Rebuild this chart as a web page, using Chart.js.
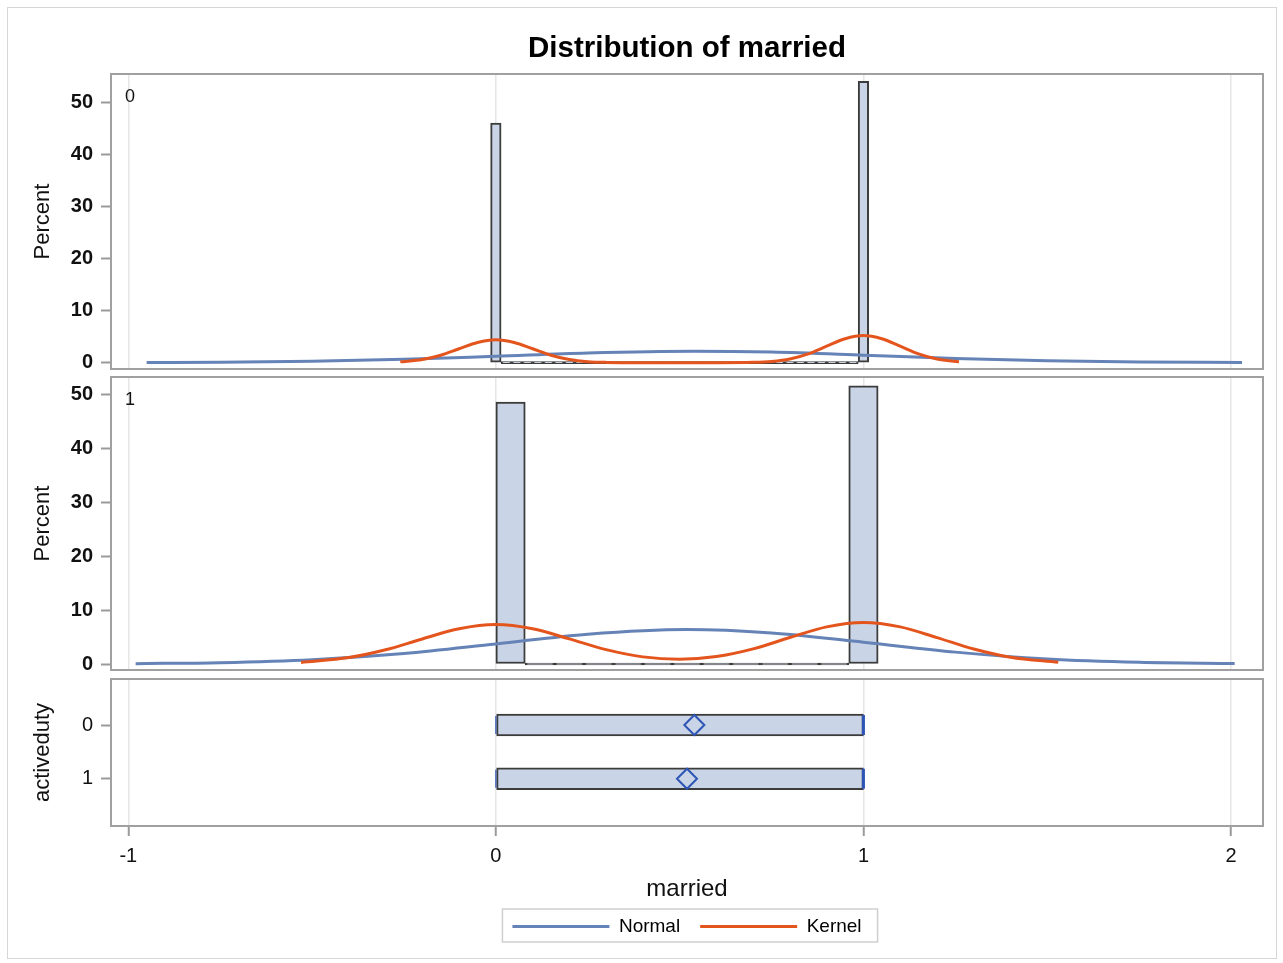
<!DOCTYPE html>
<html>
<head>
<meta charset="utf-8">
<title>Distribution of married</title>
<script src="https://cdn.jsdelivr.net/npm/chart.js@4.4.1/dist/chart.umd.min.js"></script>
<style>
  html, body { margin: 0; padding: 0; background: #fff; overflow: hidden; }
  #wrap { position: relative; width: 1283px; height: 963px; }
  #frame { position: absolute; left: 7px; top: 7px; width: 1268px; height: 950px; border: 1px solid #d6d6d6; }
  canvas { position: absolute; left: 0; }
</style>
</head>
<body>
<div id="wrap">
  <div id="frame"></div>
  <canvas id="c1" width="1283" height="380" style="top:0px"></canvas>
  <canvas id="c2" width="1283" height="315" style="top:366px"></canvas>
  <canvas id="c3" width="1283" height="291" style="top:672px"></canvas>
</div>
<script>
const chartTitle = 'Distribution of married';
const xLabel = 'married';
const yLabel = 'Percent';
const groupLabel = 'activeduty';
const groups = ['0', '1'];
const xTicks = [-1, 0, 1, 2];
const percentTicks = [0, 10, 20, 30, 40, 50];
const legendNames = ['Normal', 'Kernel'];

// histogram for activeduty = 0 : bins of width 1/35 starting at 0
const hist0Start = 0;
const hist0Width = 1 / 35;
const hist0Pct = [46, 0, 0, 0, 0, 0, 0, 0, 0, 0, 0, 0, 0, 0, 0, 0, 0, 0,
                  0, 0, 0, 0, 0, 0, 0, 0, 0, 0, 0, 0, 0, 0, 0, 0, 0, 54];

// histogram for activeduty = 1 : bins of width 0.08 starting at 0.04
const hist1Start = 0.04;
const hist1Width = 0.08;
const hist1Pct = [48.5, 0, 0, 0, 0, 0, 0, 0, 0, 0, 0, 0, 51.5];

// fitted curves
const normal0X = [-0.95, -0.75, -0.5, -0.25, 0, 0.25, 0.54, 0.75, 1, 1.25, 1.5, 1.75, 2.03];
const normal0Y = [0.03, 0.08, 0.25, 0.63, 1.23, 1.86, 2.2, 2.02, 1.44, 0.8, 0.35, 0.12, 0.03];
const kernel0X = [-0.26, -0.2, -0.15, -0.1, -0.05, 0, 0.05, 0.1, 0.15, 0.2, 0.25, 0.3, 0.4, 0.5,
                  0.6, 0.7, 0.75, 0.8, 0.85, 0.9, 0.95, 1, 1.05, 1.1, 1.15, 1.2, 1.26];
const kernel0Y = [0.15, 0.6, 1.43, 2.67, 3.88, 4.4, 3.88, 2.67, 1.43, 0.6, 0.19, 0.05, 0, 0,
                  0, 0.06, 0.23, 0.7, 1.69, 3.16, 4.59, 5.2, 4.59, 3.16, 1.69, 0.7, 0.18];

const normal1X = [-0.98, -0.75, -0.5, -0.25, 0, 0.25, 0.52, 0.75, 1, 1.25, 1.5, 1.75, 2.01];
const normal1Y = [0.07, 0.25, 0.8, 1.95, 3.72, 5.53, 6.4, 5.76, 4.04, 2.2, 0.93, 0.31, 0.08];
const kernel1X = [-0.53, -0.4, -0.3, -0.2, -0.1, 0, 0.1, 0.2, 0.3, 0.4, 0.5, 0.6, 0.7, 0.8,
                  0.9, 1, 1.1, 1.2, 1.3, 1.4, 1.53];
const kernel1Y = [0.3, 1.19, 2.63, 4.64, 6.52, 7.3, 6.52, 4.65, 2.66, 1.32, 0.88, 1.38, 2.8, 4.9,
                  6.88, 7.7, 6.88, 4.89, 2.77, 1.26, 0.32];

// box plot stats per activeduty group
const boxMin = [0, 0];
const boxQ1 = [0, 0];
const boxMedian = [1, 1];
const boxQ3 = [1, 1];
const boxMean = [0.54, 0.52];

const FONT = "'Liberation Sans', Arial, Helvetica, sans-serif";
const BLUE = '#6583b6';
const ORANGE = '#e4551e';
const BAR_FILL = '#c9d5e6';
const BAR_EDGE = '#3c3c3c';
const MARK = '#2e55b6';
const TEXT = '#111';
const GRID = '#e6e6e6';
const TICK = '#9a9a9a';
const X_MIN = -1.047, X_MAX = 2.087;

Chart.defaults.font.family = FONT;
Chart.defaults.color = TEXT;
Chart.defaults.animation = false;

// plot frame, panel label, legend border
const framePlugin = {
  id: 'frame',
  afterDraw(chart, args, opts) {
    const { ctx, chartArea: a } = chart;
    ctx.save();
    ctx.strokeStyle = '#a0a0a0';
    ctx.lineWidth = 2;
    ctx.strokeRect(a.left, a.top, a.right - a.left, a.bottom - a.top);
    if (opts.label) {
      ctx.fillStyle = TEXT;
      ctx.font = '18px ' + FONT;
      ctx.textBaseline = 'middle';
      ctx.textAlign = 'left';
      ctx.fillText(opts.label, a.left + 14, a.top + 23);
    }
    if (opts.legendBox && chart.legend && chart.legend.legendHitBoxes.length) {
      const hb = chart.legend.legendHitBoxes;
      const last = hb[hb.length - 1];
      const l = hb[0].left - 10, r = last.left + last.width + 16;
      const t = hb[0].top - 8, b = hb[0].top + hb[0].height + 6;
      ctx.strokeStyle = '#cfcfcf';
      ctx.lineWidth = 1.5;
      ctx.strokeRect(l, t, r - l, b - t);
    }
    ctx.restore();
  }
};

// label overhang must not push the plot areas around
function noOverhang(s) {
  s.paddingTop = 0;
  s.paddingBottom = 0;
  s.paddingLeft = 0;
  s.paddingRight = 0;
}

function points(xs, ys) {
  return xs.map((x, i) => ({ x: x, y: ys[i] }));
}

function yAxis(min, max, title, tickValues, labelFor, weight) {
  return {
    type: 'linear',
    min: min,
    max: max,
    offset: false,
    afterBuildTicks: s => { s.ticks = tickValues.map(v => ({ value: v })); },
    afterFit: s => { s.width = 111; noOverhang(s); },
    ticks: {
      font: { size: 20, weight: weight || 'normal' },
      color: TEXT,
      padding: 8,
      callback: labelFor || (v => v)
    },
    grid: { offset: false, drawOnChartArea: false, drawTicks: true, tickLength: 10, tickColor: TICK, tickWidth: 2 },
    border: { display: false },
    title: { display: true, text: title, font: { size: 22 }, color: TEXT, padding: { top: 30 } }
  };
}

function hiddenXAxis() {
  return {
    type: 'linear',
    min: X_MIN,
    max: X_MAX,
    offset: false,
    afterBuildTicks: s => { s.ticks = xTicks.map(v => ({ value: v })); },
    afterFit: s => { s.height = 0; noOverhang(s); },
    ticks: { display: false },
    grid: { offset: false, color: GRID, lineWidth: 1.5, drawTicks: false },
    border: { display: false }
  };
}

function histogram(id, start, width, pct, nX, nY, kX, kY, yMin, yMax, label, pad, withTitle) {
  const bars = pct.map((p, i) => ({ x: start + i * width, y: p }));
  return new Chart(document.getElementById(id), {
    type: 'bar',
    data: {
      datasets: [
        {
          type: 'line', label: legendNames[0], data: points(nX, nY),
          borderColor: BLUE, borderWidth: 3, pointRadius: 0,
          cubicInterpolationMode: 'monotone', order: 1
        },
        {
          type: 'line', label: legendNames[1], data: points(kX, kY),
          borderColor: ORANGE, borderWidth: 3, pointRadius: 0,
          cubicInterpolationMode: 'monotone', order: 0
        },
        {
          type: 'bar', label: 'hist', data: bars,
          backgroundColor: BAR_FILL, borderColor: BAR_EDGE, borderWidth: 2,
          borderSkipped: false, minBarLength: 2,
          categoryPercentage: 1, barPercentage: 1, order: 2
        }
      ]
    },
    options: {
      responsive: false,
      devicePixelRatio: 1,
      layout: { autoPadding: false, padding: pad },
      scales: {
        x: hiddenXAxis(),
        y: yAxis(yMin, yMax, yLabel, percentTicks, null, 'bold')
      },
      plugins: {
        legend: { display: false },
        tooltip: { enabled: false },
        title: withTitle ? {
          display: true, text: chartTitle, fullSize: false,
          font: { size: 29.5, weight: 'bold' }, color: '#000',
          padding: { top: 31, bottom: 7.6 }
        } : { display: false },
        frame: { label: label }
      }
    },
    plugins: [framePlugin]
  });
}

histogram('c1', hist0Start, hist0Width, hist0Pct, normal0X, normal0Y, kernel0X, kernel0Y,
  -1.22, 55.4, groups[0], { left: 0, right: 20, top: 0, bottom: 11 }, true);

histogram('c2', hist1Start, hist1Width, hist1Pct, normal1X, normal1Y, kernel1X, kernel1Y,
  -1.11, 53.15, groups[1], { left: 0, right: 20, top: 11, bottom: 11 }, false);

// box plot panel
const boxY = yAxis(-0.857, 1.88, groupLabel, groups.map((g, i) => i), (v) => groups[v]);
boxY.reverse = true;

new Chart(document.getElementById('c3'), {
  type: 'bar',
  data: {
    datasets: [
      {
        type: 'scatter', label: 'mean', data: groups.map((g, i) => ({ x: boxMean[i], y: i })),
        pointStyle: 'rectRot', pointRadius: 10, borderColor: MARK, borderWidth: 2,
        backgroundColor: 'rgba(0,0,0,0)', order: 0
      },
      {
        type: 'scatter', label: 'median', data: groups.map((g, i) => ({ x: boxMedian[i], y: i })),
        pointStyle: 'line', rotation: 90, pointRadius: 10, borderColor: MARK, borderWidth: 3, order: 1
      },
      {
        type: 'scatter', label: 'min', data: groups.map((g, i) => ({ x: boxMin[i], y: i })),
        pointStyle: 'line', rotation: 90, pointRadius: 9, borderColor: MARK, borderWidth: 1.2, order: 1
      },
      {
        type: 'bar', label: 'box', indexAxis: 'y',
        data: groups.map((g, i) => ({ x: [boxQ1[i], boxQ3[i]], y: i })),
        backgroundColor: BAR_FILL, borderColor: BAR_EDGE, borderWidth: 2,
        borderSkipped: false, barThickness: 22, order: 2
      }
    ]
  },
  options: {
    responsive: false,
    devicePixelRatio: 1,
    layout: { autoPadding: false, padding: { left: 0, right: 20, top: 7, bottom: 17 } },
    scales: {
      x: {
        type: 'linear',
        min: X_MIN,
        max: X_MAX,
        offset: false,
        afterBuildTicks: s => { s.ticks = xTicks.map(v => ({ value: v })); },
        afterFit: s => { s.height = 71; noOverhang(s); },
        ticks: { font: { size: 20 }, color: TEXT, padding: 8 },
        grid: { offset: false, color: GRID, lineWidth: 1.5, drawTicks: true, tickLength: 10, tickColor: TICK, tickWidth: 2 },
        border: { display: false },
        title: { display: true, text: xLabel, font: { size: 24 }, color: TEXT, padding: { top: 0, bottom: -6.4 } }
      },
      y: boxY
    },
    plugins: {
      legend: {
        display: true,
        position: 'bottom',
        fullSize: false,
        onClick: null,
        labels: {
          boxWidth: 97,
          boxHeight: 3,
          padding: 20,
          font: { size: 19 },
          color: '#333',
          generateLabels: () => legendNames.map((name, i) => ({
            text: name,
            fillStyle: i === 0 ? BLUE : ORANGE,
            strokeStyle: i === 0 ? BLUE : ORANGE,
            lineWidth: 0,
            hidden: false,
            datasetIndex: i
          }))
        }
      },
      tooltip: { enabled: false },
      frame: { legendBox: true }
    }
  },
  plugins: [framePlugin]
});
</script>
</body>
</html>
